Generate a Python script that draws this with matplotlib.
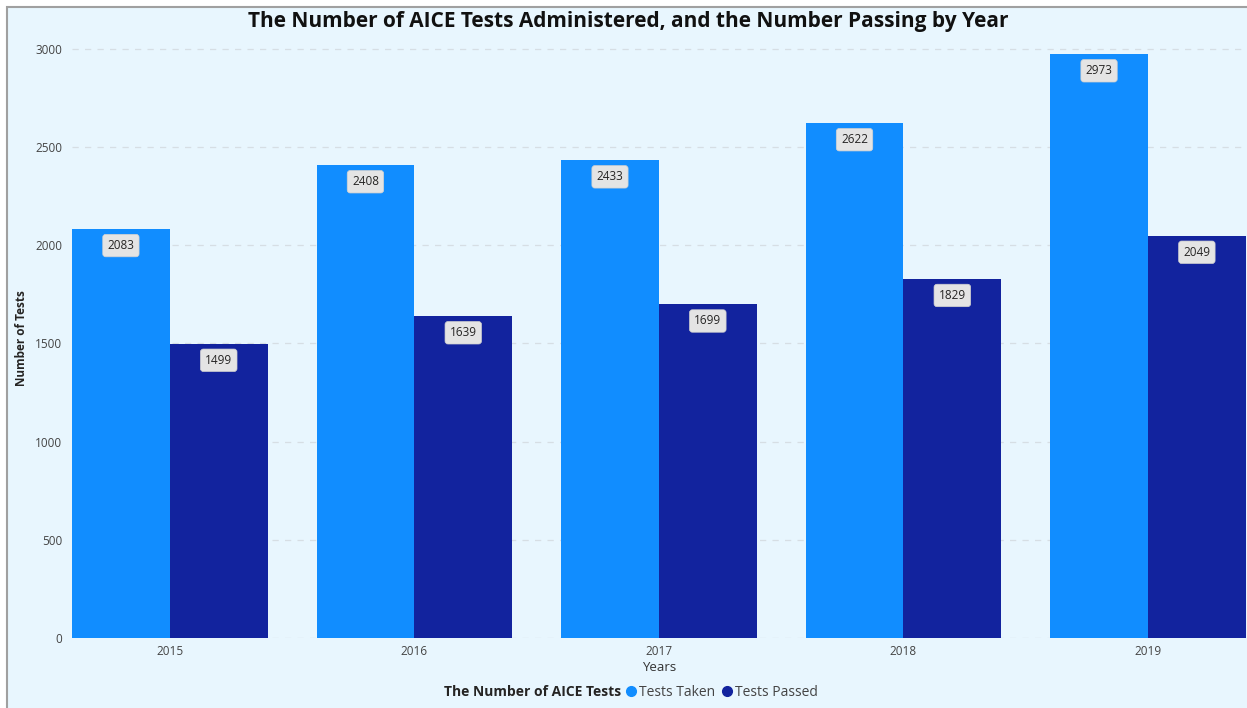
import matplotlib
matplotlib.use("Agg")
import matplotlib.pyplot as plt
import numpy as np
from matplotlib.patches import Rectangle

plt.rcParams['font.family'] = ['Open Sans', 'DejaVu Sans']

# datos
years = ["2015", "2016", "2017", "2018", "2019"]
tests_taken = [2083, 2408, 2433, 2622, 2973]
tests_passed = [1499, 1639, 1699, 1829, 2049]

c_taken = "#118DFF"
c_passed = "#12239E"
bg = "#E8F6FE"

fig = plt.figure(figsize=(12.47, 7.08), dpi=100)
fig.patch.set_facecolor("white")
# fondo del panel con borde gris
fig.patches.append(Rectangle((7/1247, -0.01), 1, 1 - 7/708 + 0.01, transform=fig.transFigure,
                             facecolor=bg, edgecolor="#A0A0A0", linewidth=1.5, zorder=-5))

ax = fig.add_axes([72/1247, 1 - 638/708, 1 - 72/1247, (638 - 39)/708])
ax.set_facecolor(bg)
ax.patch.set_alpha(0)

x = np.arange(len(years))
w = 0.4
b1 = ax.bar(x - w/2, tests_taken, width=w, color=c_taken, zorder=2, label="Tests Taken")
b2 = ax.bar(x + w/2, tests_passed, width=w, color=c_passed, zorder=2, label="Tests Passed")

# etiquetas de valores dentro de las barras
for bars, vals in [(b1, tests_taken), (b2, tests_passed)]:
    for r, v in zip(bars, vals):
        ax.annotate(str(v), xy=(r.get_x() + r.get_width()/2, v), xytext=(0, -12),
                    textcoords="offset points", ha="center", va="center", fontsize=8.5,
                    color="#252423", zorder=3,
                    bbox=dict(boxstyle="round,pad=0.4,rounding_size=0.25", fc="#E4E4E4",
                              ec="#D0D0D0", lw=0.5))

ax.set_xlim(-0.4, 4.405)
ax.set_ylim(0, 3050)
ax.set_yticks(np.arange(0, 3001, 500))
ax.set_xticks(x)
ax.set_xticklabels(years)
ax.tick_params(axis="both", length=0, labelsize=8.5, labelcolor="#444444")
ax.tick_params(axis="y", pad=7)
ax.tick_params(axis="x", pad=5)
ax.grid(axis="y", linestyle=(0, (5, 5)), color="#D6DEE4", linewidth=0.9, zorder=0)
for s in ax.spines.values():
    s.set_visible(False)

ax.set_xlabel("Years", fontsize=9.5, color="#333333", labelpad=2)
ax.set_ylabel("Number of Tests", fontsize=8.5, fontweight="bold", color="#252423", labelpad=5)

fig.text(0.504, 1 - 22/708, "The Number of AICE Tests Administered, and the Number Passing by Year",
         ha="center", va="center", fontsize=15, fontweight="bold", color="#111111")

# leyenda
fig.text(621/1247, 1 - 692/708, "The Number of AICE Tests", ha="right", va="center",
         fontsize=10, fontweight="bold", color="#252423")
leg = fig.legend(handles=[plt.Line2D([], [], marker="o", ls="", color=c_taken, markersize=7),
                          plt.Line2D([], [], marker="o", ls="", color=c_passed, markersize=7)],
                 labels=["Tests Taken", "Tests Passed"], loc="center left",
                 bbox_to_anchor=(624/1247, 1 - 692/708), ncol=2, frameon=False,
                 fontsize=10, handletextpad=0.05, columnspacing=0.4, handlelength=1.0,
                 borderpad=0, borderaxespad=0)
for t in leg.get_texts():
    t.set_color("#444444")

fig.savefig("out.png", dpi=100, facecolor=fig.get_facecolor())
